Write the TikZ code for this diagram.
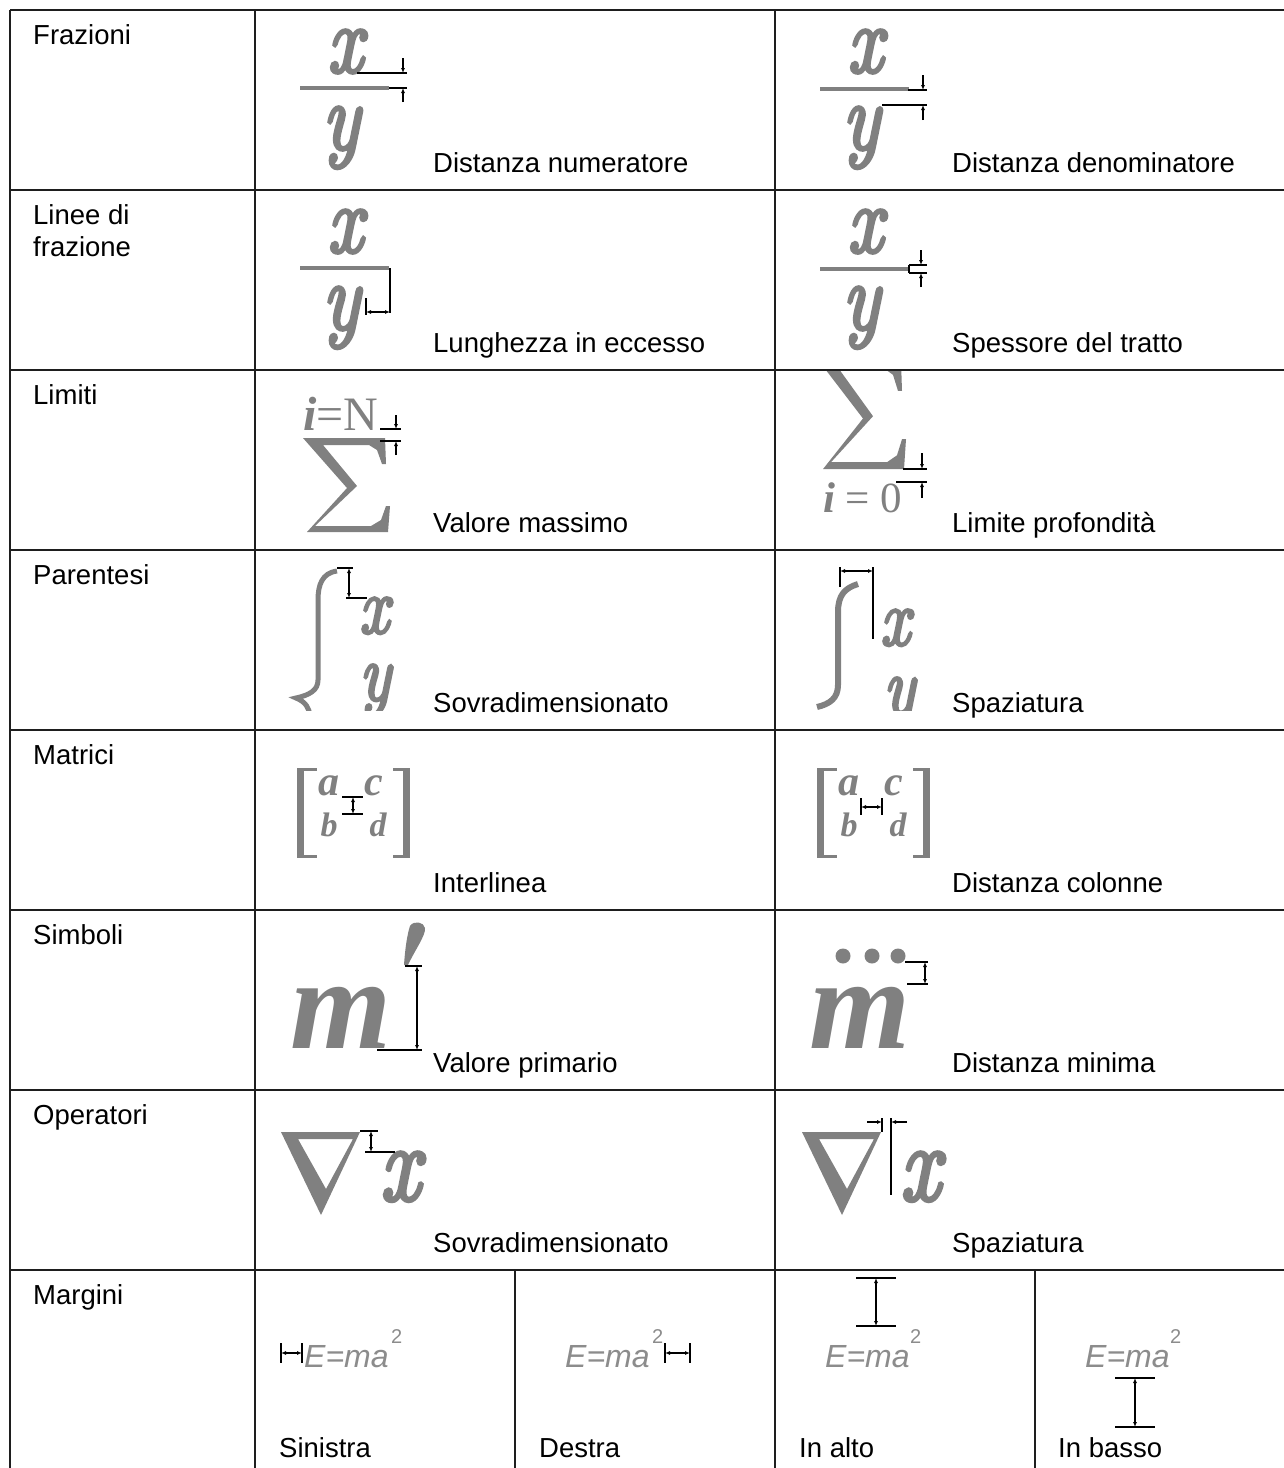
\documentclass[tikz,border=0pt]{standalone}
\usepackage{fontspec}
\setmainfont{Liberation Sans}
\newfontfamily\gserif{Liberation Serif}
\newfontfamily\lmfam{Latin Modern Roman}[FakeBold=4]
\usetikzlibrary{arrows.meta}
\definecolor{glyph}{RGB}{128,128,128}
\definecolor{glyphlight}{RGB}{140,140,140}
\definecolor{rulecol}{RGB}{30,30,30}
\begin{document}
\begin{tikzpicture}[x=1pt,y=-1pt,
  lbl/.style={anchor=base west,inner sep=0pt,font=\fontsize{27.5}{32}\selectfont},
  gl/.style={anchor=base,inner sep=0pt,text=glyph},
  gbi/.style={gl,font=\gserif\bfseries\itshape\fontsize{#1}{#1}\selectfont},
  gm/.style={gl,xscale=0.82,font=\lmfam\itshape\fontsize{#1}{#1}\selectfont},
  emc/.style={anchor=base west,inner sep=0pt,text=glyphlight,font=\itshape\fontsize{32}{32}\selectfont},
  emsup/.style={anchor=base west,inner sep=0pt,text=glyphlight,font=\fontsize{20}{20}\selectfont},
  dimline/.style={line width=1.3pt,black},
  darr/.style={dimline,{Latex[length=5pt,width=4pt]}-{Latex[length=5pt,width=4pt]}},
  sarr/.style={dimline,-{Latex[length=5pt,width=4pt]}},
  tablerule/.style={line width=1.3pt,rulecol},
  sigmaglyph/.pic={\fill[glyph] (0,0) -- (82,0) -- (83,26) -- (79,26) -- (74,12) -- (66,7) -- (20,7) -- (54,48) -- (12,88) -- (68,88) -- (78,82) -- (83,68) -- (87,68) -- (85,94) -- (4,94) -- (44,50) -- cycle;},
  nablaglyph/.pic={\fill[glyph,even odd rule] (0,0) -- (79,0) -- (40,83) -- cycle (17,7) -- (72,7) -- (45,57) -- cycle;}
]
\useasboundingbox (0,0) rectangle (1284,1468);
\fill[white] (0,0) rectangle (1284,1468);

% ---------- table rules ----------
\foreach \yy in {10,190,370,550,730,910,1090,1270}
  \draw[tablerule] (10,\yy) -- (1284,\yy);
\draw[tablerule] (10,10) -- (10,1468);
\draw[tablerule] (255,10) -- (255,1468);
\draw[tablerule] (775,10) -- (775,1468);
\draw[tablerule] (515,1270) -- (515,1468);
\draw[tablerule] (1035,1270) -- (1035,1468);

% ---------- row labels ----------
\node[lbl] (h1) at (33,44) {Frazioni};
\node[lbl] (h2a) at (33,224) {Linee di};
\node[lbl] (h2b) at (33,256) {frazione};
\node[lbl] (h3) at (33,404) {Limiti};
\node[lbl] (h4) at (33,584) {Parentesi};
\node[lbl] (h5) at (33,764) {Matrici};
\node[lbl] (h6) at (33,944) {Simboli};
\node[lbl] (h7) at (33,1124) {Operatori};
\node[lbl] (h8) at (33,1304) {Margini};

% ---------- cell labels ----------
\node[lbl] (l1a) at (433,172) {Distanza numeratore};
\node[lbl] (l1b) at (952,172) {Distanza denominatore};
\node[lbl] (l2a) at (433,352) {Lunghezza in eccesso};
\node[lbl] (l2b) at (952,352) {Spessore del tratto};
\node[lbl] (l3a) at (433,532) {Valore massimo};
\node[lbl] (l3b) at (952,532) {Limite profondità};
\node[lbl] (l4a) at (433,712) {Sovradimensionato};
\node[lbl] (l4b) at (952,712) {Spaziatura};
\node[lbl] (l5a) at (433,892) {Interlinea};
\node[lbl] (l5b) at (952,892) {Distanza colonne};
\node[lbl] (l6a) at (433,1072) {Valore primario};
\node[lbl] (l6b) at (952,1072) {Distanza minima};
\node[lbl] (l7a) at (433,1252) {Sovradimensionato};
\node[lbl] (l7b) at (952,1252) {Spaziatura};
\node[lbl] (l8a) at (279,1457) {Sinistra};
\node[lbl] (l8b) at (539,1457) {Destra};
\node[lbl] (l8c) at (799,1457) {In alto};
\node[lbl] (l8d) at (1058,1457) {In basso};

% ---------- row 1: Frazioni ----------
\node[gm=95] (f1x) at (345,72) {x};
\fill[glyph] (300,86) rectangle (389,90);
\node[gm=95] (f1y) at (341,149) {y};
\draw[dimline] (357,73) -- (407,73);
\draw[sarr] (403,58) -- (403,73);
\draw[dimline] (389,88) -- (407,88);
\draw[sarr] (403,102) -- (403,88);

\node[gm=95] (f2x) at (865,72) {x};
\fill[glyph] (820,87) rectangle (909,91);
\node[gm=95] (f2y) at (861,149) {y};
\draw[dimline] (908,90) -- (927,90);
\draw[sarr] (923,75) -- (923,90);
\draw[dimline] (882,105) -- (927,105);
\draw[sarr] (923,120) -- (923,105);

% ---------- row 2: Linee di frazione ----------
\node[gm=95] (g1x) at (345,252) {x};
\fill[glyph] (300,266) rectangle (389,270);
\node[gm=95] (g1y) at (341,329) {y};
\draw[dimline] (390,268) -- (390,313);
\draw[dimline] (366,298) -- (366,315);
\draw[darr] (366,312) -- (390,312);

\node[gm=95] (g2x) at (865,252) {x};
\fill[glyph] (820,267) rectangle (909,271);
\node[gm=95] (g2y) at (861,329) {y};
\draw[dimline] (909,265) -- (927,265);
\draw[dimline] (909,273) -- (927,273);
\draw[dimline] (909,265) -- (909,273);
\draw[sarr] (921,250) -- (921,265);
\draw[sarr] (921,287) -- (921,273);

% ---------- row 3: Limiti ----------
\node[anchor=base west,inner sep=0pt,text=glyph,font=\gserif\fontsize{48}{48}\selectfont] (lim1) at (303,430) {{\bfseries\itshape i}=N};
\pic at (303,438) {sigmaglyph};
\draw[dimline] (380,429) -- (401,429);
\draw[sarr] (396,415) -- (396,429);
\draw[dimline] (380,441) -- (401,441);
\draw[sarr] (396,455) -- (396,441);

\begin{scope}
\clip (776,371) rectangle (1284,549);
\pic[yscale=1.15] at (819,361) {sigmaglyph};
\end{scope}
\node[anchor=base west,inner sep=0pt,text=glyph,font=\gserif\fontsize{43}{43}\selectfont] (lim2) at (823,512) {{\bfseries\itshape i} = 0};
\draw[dimline] (903,469) -- (927,469);
\draw[sarr] (922,453) -- (922,469);
\draw[dimline] (896,482) -- (927,482);
\draw[sarr] (922,498) -- (922,482);

% ---------- row 4: Parentesi ----------
\begin{scope}
\clip (256,551) rectangle (1284,710);
\draw[glyph,line width=5pt] (337,571) .. controls (322,573) and (318,585) .. (318,600) -- (318,680) .. controls (318,690) and (310,695) .. (296,698) .. controls (306,702) and (309,708) .. (310,716);
\node[gm=80] (p1x) at (374,633) {x};
\node[gm=80] (p1y) at (375,700) {y};
\draw[glyph,line width=6pt] (858,584) .. controls (845,588) and (838,595) .. (838,612) -- (838,685) .. controls (838,698) and (830,704) .. (817,707);
\node[gm=80] (p2x) at (895,645) {x};
\node[gm=80] (p2y) at (899,713) {y};
\end{scope}
\draw[dimline] (337,568) -- (353,568);
\draw[dimline] (346,598) -- (367,598);
\draw[darr] (349,568) -- (349,598);
\draw[dimline] (840,567) -- (840,587);
\draw[dimline] (873,567) -- (873,639);
\draw[darr] (840,571) -- (873,571);

% ---------- row 5: Matrici ----------
\foreach \dx/\nm in {0/ma,520/mb}{
  \fill[glyph] (297+\dx,768) rectangle (304+\dx,858);
  \fill[glyph] (297+\dx,768) rectangle (317+\dx,771);
  \fill[glyph] (297+\dx,855) rectangle (317+\dx,858);
  \fill[glyph] (403+\dx,768) rectangle (410+\dx,858);
  \fill[glyph] (393+\dx,768) rectangle (410+\dx,771);
  \fill[glyph] (393+\dx,855) rectangle (410+\dx,858);
  \node[gbi=42] (\nm a) at (329+\dx,795) {a};
  \node[gbi=42] (\nm c) at (374+\dx,795) {c};
  \node[gbi=34] (\nm b) at (329+\dx,836) {b};
  \node[gbi=34] (\nm d) at (378+\dx,836) {d};
}
\draw[dimline] (342,797) -- (363,797);
\draw[dimline] (342,814) -- (363,814);
\draw[darr] (353,797) -- (353,814);
\draw[dimline] (861,798) -- (861,815);
\draw[dimline] (882,798) -- (882,815);
\draw[darr] (861,807) -- (882,807);

% ---------- row 6: Simboli ----------
\node[gbi=130] (s1m) at (341,1048) {m};
\fill[glyph] (404,965) -- (408,965) .. controls (415,950) and (426,935) .. (425,928) .. controls (424,922) and (414,920) .. (410,926) .. controls (407,935) and (405,950) .. cycle;
\draw[dimline] (405,966) -- (422,966);
\draw[dimline] (377,1050) -- (422,1050);
\draw[darr] (417,966) -- (417,1050);

\node[gbi=130] (s2m) at (860,1048) {m};
\fill[glyph] (843,956) circle (7.5);
\fill[glyph] (872,956) circle (7.5);
\fill[glyph] (898,956) circle (7.5);
\draw[dimline] (905,962) -- (928,962);
\draw[dimline] (907,984) -- (928,984);
\draw[darr] (925,962) -- (925,984);

% ---------- row 7: Operatori ----------
\pic at (281,1132) {nablaglyph};
\node[gm=108] (o1x) at (400,1200) {x};
\draw[dimline] (360,1131) -- (378,1131);
\draw[dimline] (365,1152) -- (395,1152);
\draw[darr] (371,1131) -- (371,1152);

\pic at (802,1132) {nablaglyph};
\node[gm=108] (o2x) at (920,1200) {x};
\draw[dimline] (882,1118) -- (882,1132);
\draw[dimline] (891,1118) -- (891,1195);
\draw[sarr] (867,1122) -- (882,1122);
\draw[sarr] (907,1122) -- (891,1122);

% ---------- row 8: Margini ----------
\node[emc] (e1) at (304,1367) {E=ma};
\node[emsup] (e1s) at (391,1343) {2};
\draw[dimline] (281,1343) -- (281,1363);
\draw[dimline] (302,1343) -- (302,1363);
\draw[darr] (281,1353) -- (302,1353);

\node[emc] (e2) at (565,1367) {E=ma};
\node[emsup] (e2s) at (652,1343) {2};
\draw[dimline] (665,1343) -- (665,1363);
\draw[dimline] (690,1343) -- (690,1363);
\draw[darr] (665,1353) -- (690,1353);

\node[emc] (e3) at (825,1367) {E=ma};
\node[emsup] (e3s) at (910,1343) {2};
\draw[dimline] (856,1278) -- (896,1278);
\draw[dimline] (856,1326) -- (896,1326);
\draw[darr] (876,1278) -- (876,1326);

\node[emc] (e4) at (1085,1367) {E=ma};
\node[emsup] (e4s) at (1170,1343) {2};
\draw[dimline] (1115,1378) -- (1155,1378);
\draw[dimline] (1115,1427) -- (1155,1427);
\draw[darr] (1135,1378) -- (1135,1427);
\end{tikzpicture}
\end{document}
